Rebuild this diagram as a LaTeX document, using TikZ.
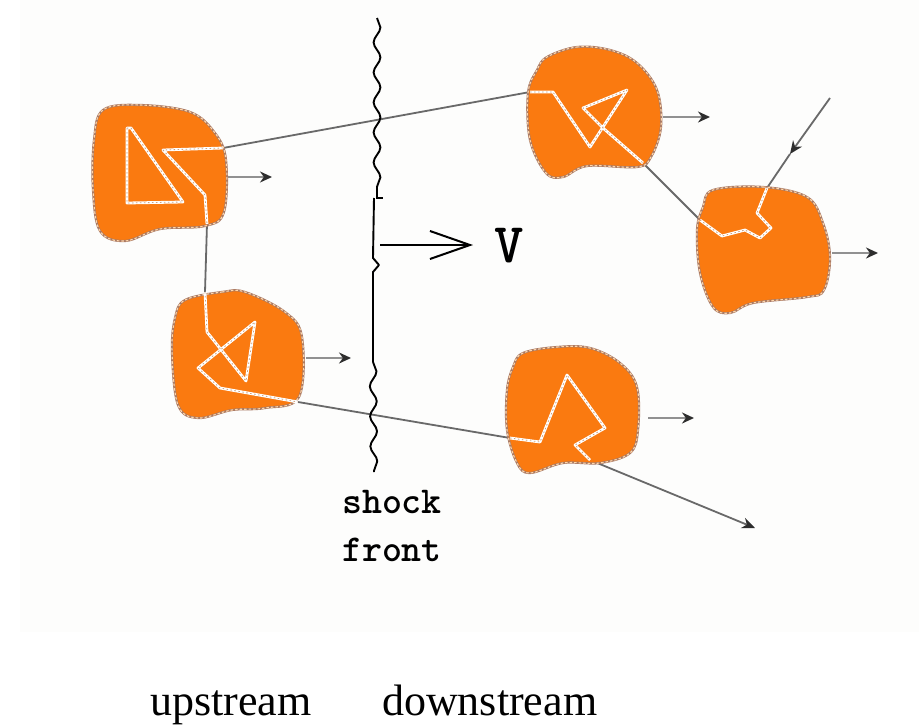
\documentclass[tikz,border=0pt]{standalone}
\usepackage{fontspec}
\newfontfamily\serifface{Liberation Serif}
\usetikzlibrary{arrows.meta,decorations.pathmorphing}

\definecolor{panel}{RGB}{253,253,252}
\definecolor{blobfill}{RGB}{250,122,16}
\definecolor{blobedge}{RGB}{170,122,100}
\definecolor{blobdash}{RGB}{255,214,170}
\definecolor{trackdot}{RGB}{205,160,125}
\definecolor{linkgray}{RGB}{105,105,105}
\definecolor{driftgray}{RGB}{145,145,145}
\definecolor{tipgray}{RGB}{45,45,45}

\tikzset{
  blob/.style={fill=blobfill, draw=blobedge, line width=2.2pt,
    postaction={draw=blobdash, line width=1.1pt, dash pattern=on 2.5pt off 2pt}},
  track/.style={draw=white, line width=2.8pt, line join=round,
    postaction={draw=trackdot, line width=0.8pt, dash pattern=on 1.5pt off 2.5pt}},
  link/.style={draw=linkgray, line width=1.8pt},
  linkarrow/.style={link, -{Stealth[length=13pt,width=11pt,color=tipgray]}},
  drift/.style={draw=driftgray, line width=2.2pt,
    -{Stealth[length=12pt,width=11pt,color=tipgray]}},
  shockline/.style={draw=black, line width=1.9pt, line join=round},
  wave/.style={decorate, decoration={snake, amplitude=3.4pt, segment length=30pt}},
}

\begin{document}
\begin{tikzpicture}[x=1pt, y=-1pt]
  \useasboundingbox (0,0) rectangle (919,726);
  \fill[panel] (20,0) rectangle (919,632);

  % end points of the particle paths on the cloud rims
  \coordinate (aC) at (223,148);
  \coordinate (aB) at (207,224);
  \coordinate (bA) at (205,292);
  \coordinate (bE) at (298,402);
  \coordinate (cA) at (530,92);
  \coordinate (cD) at (643,163);
  \coordinate (dC) at (700,220);
  \coordinate (dTop) at (767,188);
  \coordinate (dFar) at (830,98);
  \coordinate (dMid) at (790,154);
  \coordinate (eB) at (510,438);
  \coordinate (eOut) at (590,460);
  \coordinate (eFar) at (755,528);

  % straight flights between the clouds
  \draw[link] (aC) -- (cA);
  \draw[link] (aB) -- (bA);
  \draw[link] (bE) -- (eB);
  \draw[link] (cD) -- (dC);
  \draw[linkarrow] (eOut) -- (eFar);
  \draw[linkarrow] (dFar) -- (dMid);
  \draw[link] (dMid) -- (dTop);

  % scattering clouds
  \path[blob] plot[smooth cycle, tension=0.6] coordinates
    {(103,110) (140,105) (190,112) (215,133) (226,160) (224,212) (205,226)
     (160,229) (125,241) (100,231) (93,190) (94,140)};
  \path[blob] plot[smooth cycle, tension=0.6] coordinates
    {(185,300) (222,292) (245,292) (285,312) (302,337) (299,397) (265,408)
     (232,410) (198,418) (178,405) (172,352) (175,318)};
  \path[blob] plot[smooth cycle, tension=0.6] coordinates
    {(547,57) (577,47) (610,50) (637,63) (657,90) (661,127) (651,157)
     (637,167) (587,166) (563,177) (546,173) (530,140) (528,93) (537,70)};
  \path[blob] plot[smooth cycle, tension=0.6] coordinates
    {(713,190) (763,187) (807,197) (823,223) (830,257) (824,290) (807,297)
     (753,303) (730,313) (713,307) (700,273) (697,230) (703,207)};
  \path[blob] plot[smooth cycle, tension=0.6] coordinates
    {(523,353) (557,347) (590,348) (620,363) (637,387) (638,430) (630,453)
     (600,463) (563,463) (530,473) (517,463) (507,430) (507,390) (513,367)};

  % particle paths inside the clouds
  \draw[track] (aC) -- (163,150) -- (205,195) -- (aB);
  \draw[track] (127,128) -- (127,203) -- (183,202) -- (131,128) -- cycle;
  \draw[track] (bA) -- (207,332) -- (246,381) -- (255,322) -- (198,368)
    -- (220,388) -- (bE);
  \draw[track] (cA) -- (553,92) -- (590,147) -- (627,90) -- (583,108)
    -- (603,128) -- (cD);
  \draw[track] (dC) -- (722,236) -- (745,230) -- (760,238) -- (771,228)
    -- (757,213) -- (dTop);
  \draw[track] (eB) -- (540,442) -- (567,375) -- (605,428) -- (575,445)
    -- (eOut);

  % bulk motion of each cloud
  \coordinate (aD0) at (228,177);  \coordinate (aD1) at (272,177);
  \coordinate (bD0) at (306,358);  \coordinate (bD1) at (351,358);
  \coordinate (cD0) at (663,117);  \coordinate (cD1) at (710,117);
  \coordinate (dD0) at (832,253);  \coordinate (dD1) at (878,253);
  \coordinate (eD0) at (648,418);  \coordinate (eD1) at (694,418);
  \draw[drift] (aD0) -- (aD1);
  \draw[drift] (bD0) -- (bD1);
  \draw[drift] (cD0) -- (cD1);
  \draw[drift] (dD0) -- (dD1);
  \draw[drift] (eD0) -- (eD1);

  % shock front
  \draw[shockline, wave] (377,18) -- (377,198);
  \draw[shockline] (376,198) -- (383,198);
  \draw[shockline] (374,198) -- (373,258) -- (379,265) -- (373,272) -- (373,362);
  \draw[shockline, wave] (373,362) -- (374,472);

  \node[font=\ttfamily\bfseries\fontsize{56}{56}\selectfont, inner sep=0pt]
    (vel) at (509,246) {V};
  \coordinate (vFoot) at (380,245);
  \draw[line width=2pt, -{Straight Barb[length=40pt,width=28pt]}]
    (vFoot) -- (473,245);

  \node[font=\ttfamily\bfseries\fontsize{38}{38}\selectfont, inner sep=0pt,
    anchor=base] (shocktxt) at (392,513) {shock};
  \node[font=\ttfamily\bfseries\fontsize{38}{38}\selectfont, inner sep=0pt,
    anchor=base] (fronttxt) at (392,561) {front};

  \node[font=\serifface\fontsize{44}{44}\selectfont, inner sep=0pt,
    anchor=base west] (up) at (150,715) {upstream};
  \node[font=\serifface\fontsize{44}{44}\selectfont, inner sep=0pt,
    anchor=base west] (down) at (382,715) {downstream};
\end{tikzpicture}
\end{document}
